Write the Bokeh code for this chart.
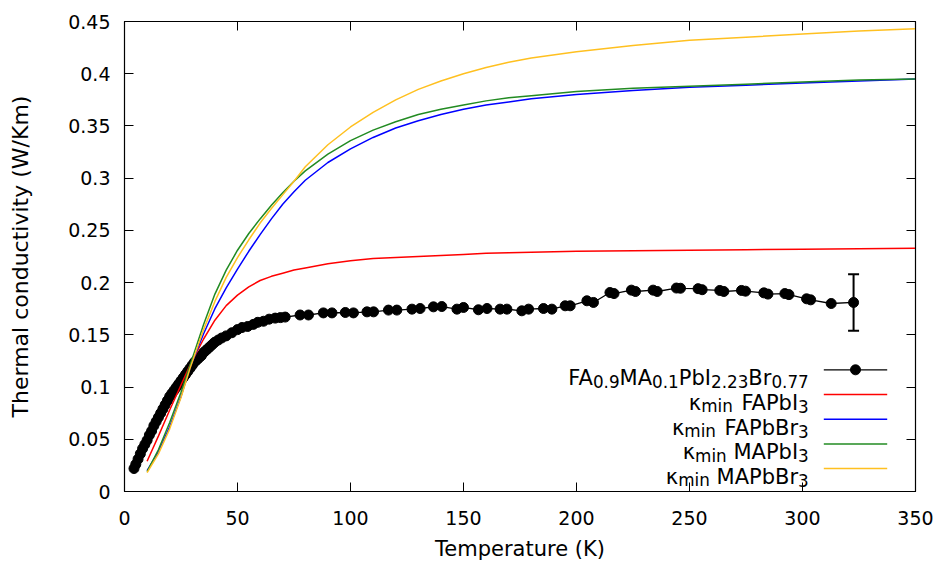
from bokeh.plotting import figure
from bokeh.models import (ColumnDataSource, FixedTicker, LinearAxis, CustomJSTickFormatter,
                          Whisker, TeeHead, Range1d)
from bokeh.embed import file_html
from bokeh.resources import INLINE
from bokeh.core.properties import value, field

FONT = "DejaVu Sans"

# ---------------- data ----------------
x_ticks = [0, 50, 100, 150, 200, 250, 300, 350]
y_ticks = [0, 0.05, 0.1, 0.15, 0.2, 0.25, 0.3, 0.35, 0.4, 0.45]

meas_T = [4.2, 5, 6, 7, 8, 9, 10, 11, 12, 13, 14, 15, 16, 17, 18, 19, 20, 21, 22, 23, 24, 25,
          26, 27, 28, 29, 30, 31, 32, 33, 34, 35, 36, 37, 38, 39, 40, 41.5, 43, 45, 47.5, 50, 52,
          54.5, 57, 59, 61.5, 64, 66.7, 69, 71.1, 77.7, 81.4, 88, 91.8, 97.7, 101.3, 107.3, 110.2,
          116.8, 120.5, 127.2, 130.8, 136.7, 140.4, 147.1, 150, 156.6, 160.4, 166.2, 169.2, 175.8,
          178.8, 185.4, 189.1, 195, 197.2, 204.6, 207.5, 214.8, 216.6, 224.3, 226.1, 233.9, 235.7,
          244.2, 246.0, 253.8, 255.6, 263.4, 265.2, 273.0, 274.8, 282.9, 284.7, 292.2, 294.0,
          301.8, 303.6, 312.7, 322.6]
meas_k = [0.022, 0.026, 0.031, 0.036, 0.041, 0.045, 0.049, 0.054, 0.058, 0.063, 0.067, 0.071,
          0.075, 0.079, 0.083, 0.087, 0.091, 0.094, 0.097, 0.100, 0.103, 0.106, 0.109, 0.112,
          0.115, 0.118, 0.121, 0.124, 0.126, 0.128, 0.130, 0.133, 0.135, 0.137, 0.139, 0.141,
          0.143, 0.145, 0.147, 0.149, 0.152, 0.155, 0.157, 0.158, 0.160, 0.162, 0.163, 0.165,
          0.166, 0.1665, 0.167, 0.169, 0.169, 0.171, 0.171, 0.1714, 0.171, 0.172, 0.172, 0.1737,
          0.1737, 0.1746, 0.1752, 0.1768, 0.1771, 0.1746, 0.1762, 0.174, 0.1752, 0.1746, 0.1746,
          0.173, 0.1746, 0.1752, 0.1746, 0.1778, 0.1778, 0.1826, 0.181, 0.1905, 0.1895, 0.1928,
          0.1915, 0.1928, 0.1915, 0.1948, 0.1946, 0.1942, 0.1932, 0.1925, 0.1915, 0.1925, 0.1918,
          0.1902, 0.189, 0.1895, 0.1885, 0.1845, 0.1835, 0.180, 0.181]
err_T = [322.6]
err_lo = [0.1538]
err_hi = [0.208]

model_T = [10, 15, 20, 25, 29, 35, 40, 45, 50, 55, 60, 65, 70, 75, 80, 90, 100, 110, 120, 130,
           140, 150, 160, 170, 180, 200, 225, 250, 275, 300, 325, 350]
k_FAPbI3 = [0.029, 0.053, 0.078, 0.102, 0.121, 0.146, 0.164, 0.178, 0.188, 0.196, 0.202, 0.206,
            0.209, 0.212, 0.214, 0.218, 0.221, 0.223, 0.224, 0.225, 0.226, 0.227, 0.228, 0.2285,
            0.229, 0.230, 0.2305, 0.231, 0.2315, 0.232, 0.2325, 0.233]
k_FAPbBr3 = [0.020, 0.038, 0.062, 0.091, 0.119, 0.151, 0.175, 0.195, 0.213, 0.230, 0.246, 0.261,
             0.275, 0.287, 0.298, 0.315, 0.328, 0.339, 0.348, 0.355, 0.361, 0.366, 0.370, 0.373,
             0.376, 0.380, 0.384, 0.387, 0.389, 0.391, 0.393, 0.395]
k_MAPbI3 = [0.019, 0.040, 0.066, 0.095, 0.121, 0.160, 0.189, 0.212, 0.231, 0.247, 0.261, 0.274,
            0.286, 0.297, 0.307, 0.323, 0.336, 0.346, 0.354, 0.361, 0.366, 0.370, 0.374, 0.377,
            0.379, 0.383, 0.386, 0.388, 0.390, 0.392, 0.394, 0.395]
k_MAPbBr3 = [0.018, 0.036, 0.060, 0.090, 0.118, 0.155, 0.182, 0.205, 0.224, 0.241, 0.257, 0.271,
             0.284, 0.297, 0.311, 0.332, 0.349, 0.363, 0.375, 0.385, 0.393, 0.400, 0.406, 0.411,
             0.415, 0.421, 0.427, 0.432, 0.435, 0.438, 0.441, 0.443]

model_series = [k_FAPbI3, k_FAPbBr3, k_MAPbI3, k_MAPbBr3]
model_colors = ["#ff0000", "#0000ff", "#228b22", "#ffc020"]

legend_rows = [
    [("FA", 0), ("0.9", 1), ("MA", 0), ("0.1", 1), ("PbI", 0), ("2.23", 1), ("Br", 0), ("0.77", 1)],
    [("κ", 0), ("min", 1), (" FAPbI", 0), ("3", 1)],
    [("κ", 0), ("min", 1), (" FAPbBr", 0), ("3", 1)],
    [("κ", 0), ("min", 1), (" MAPbI", 0), ("3", 1)],
    [("κ", 0), ("min", 1), (" MAPbBr", 0), ("3", 1)],
]

# ---------------- figure ----------------
W, H = 940, 566
LEFT, TOP = 124, 21
FRAME_W, FRAME_H = 791, 470
p = figure(width=W, height=H, x_range=Range1d(0, 350), y_range=Range1d(0, 0.45),
           output_backend="svg", toolbar_location=None,
           min_border_left=LEFT, min_border_right=W - LEFT - FRAME_W,
           min_border_top=TOP, min_border_bottom=H - TOP - FRAME_H,
           x_axis_label="Temperature (K)", y_axis_label="Thermal conductivity (W/Km)")
p.grid.visible = False
p.outline_line_color = "black"
p.outline_line_width = 1.2
p.background_fill_color = "white"
p.border_fill_color = "white"

yfmt = CustomJSTickFormatter(code="return Number(tick.toFixed(2)).toString();")

for ax in p.xaxis:
    ax.ticker = FixedTicker(ticks=x_ticks)
for ax in p.yaxis:
    ax.ticker = FixedTicker(ticks=y_ticks)
    ax.formatter = yfmt

for ax in list(p.xaxis) + list(p.yaxis):
    ax.major_tick_in = 9
    ax.major_tick_out = 0
    ax.minor_tick_in = 0
    ax.minor_tick_out = 0
    ax.axis_line_color = "black"
    ax.major_tick_line_color = "black"
    ax.major_label_text_font = FONT
    ax.major_label_text_font_size = "19px"
    ax.major_label_text_color = "black"
    ax.axis_label_text_font = FONT
    ax.axis_label_text_font_style = "normal"
    ax.axis_label_text_color = "black"

p.xaxis.major_label_standoff = 19
p.xaxis.axis_label_standoff = 9
p.xaxis.axis_label_text_font_size = "21px"
p.yaxis.major_label_standoff = 14
p.yaxis.axis_label_standoff = 32
p.yaxis.axis_label_text_font_size = "22px"

blank = CustomJSTickFormatter(code="return '';")
top_ax = LinearAxis(ticker=FixedTicker(ticks=x_ticks), formatter=blank,
                    major_tick_in=9, major_tick_out=0, minor_tick_in=0, minor_tick_out=0,
                    major_label_text_font_size="0px", major_label_standoff=0,
                    axis_line_color="black")
right_ax = LinearAxis(ticker=FixedTicker(ticks=y_ticks), formatter=blank,
                      major_tick_in=9, major_tick_out=0, minor_tick_in=0, minor_tick_out=0,
                      major_label_text_font_size="0px", major_label_standoff=0,
                      axis_line_color="black")
p.add_layout(top_ax, "above")
p.add_layout(right_ax, "right")

# ---------------- measured data ----------------
meas_src = ColumnDataSource(dict(T=meas_T, k=meas_k))
p.line("T", "k", source=meas_src, line_color="black", line_width=1.3)
p.scatter("T", "k", source=meas_src, size=10, fill_color="black", line_color="black")

err_src = ColumnDataSource(dict(T=err_T, lo=err_lo, hi=err_hi))
p.add_layout(Whisker(base="T", lower="lo", upper="hi", source=err_src, dimension="height",
                     line_color="black", line_width=2,
                     upper_head=TeeHead(size=11, line_color="black", line_width=2),
                     lower_head=TeeHead(size=11, line_color="black", line_width=2)))

# ---------------- model curves ----------------
for ks, col in zip(model_series, model_colors):
    p.line(model_T, ks, line_color=col, line_width=1.5)

# ---------------- legend (built by hand for subscripts) ----------------
px_per_T = FRAME_W / 350.0
px_per_k = FRAME_H / 0.45
EM = {'F': 0.575, 'A': 0.684, 'M': 0.863, 'P': 0.603, 'b': 0.635, 'I': 0.295, 'B': 0.686,
      'r': 0.411, '.': 0.318, 'm': 0.974, 'i': 0.278, 'n': 0.634, ' ': 0.318, 'κ': 0.59}
MAIN_PX, SUB_PX = 21.0, 16.8


def text_w(s, size):
    return sum(EM.get(c, 0.636) for c in s) * size


frame_bottom = TOP + FRAME_H
row0_k = (frame_bottom - 369.3) / px_per_k        # first legend row (data units)
row_step = 24.7 / px_per_k
text_right_T = (808.3 - LEFT) / px_per_T
sample_T0 = (823.3 - LEFT) / px_per_T
sample_T1 = (886.7 - LEFT) / px_per_T

lx, ly, lt, ls = [], [], [], []
for i, row in enumerate(legend_rows):
    yk = row0_k - i * row_step
    cur = 0.0
    for txt, sub in reversed(row):
        size = SUB_PX if sub else MAIN_PX
        dy = 11.8 if sub else 8.3
        lx.append(text_right_T - cur / px_per_T)
        ly.append(yk - dy / px_per_k)
        lt.append(txt.strip())
        ls.append(f"{size}px")
        cur += text_w(txt, size)

leg_src = ColumnDataSource(dict(x=lx, y=ly, text=lt, size=ls))
p.text(x="x", y="y", text="text", source=leg_src, text_font=value(FONT),
       text_font_size=field("size"), text_align="right", text_baseline="alphabetic",
       text_color="black")

leg_colors = ["black"] + model_colors
seg_y = [row0_k - i * row_step for i in range(len(leg_colors))]
p.segment(x0=[sample_T0] * len(seg_y), x1=[sample_T1] * len(seg_y), y0=seg_y, y1=seg_y,
          line_color=leg_colors, line_width=[1.3, 1.5, 1.5, 1.5, 1.5])
p.scatter([(sample_T0 + sample_T1) / 2], [seg_y[0]], size=10, fill_color="black",
          line_color="black")

open("out.html", "w").write(file_html(p, INLINE))
